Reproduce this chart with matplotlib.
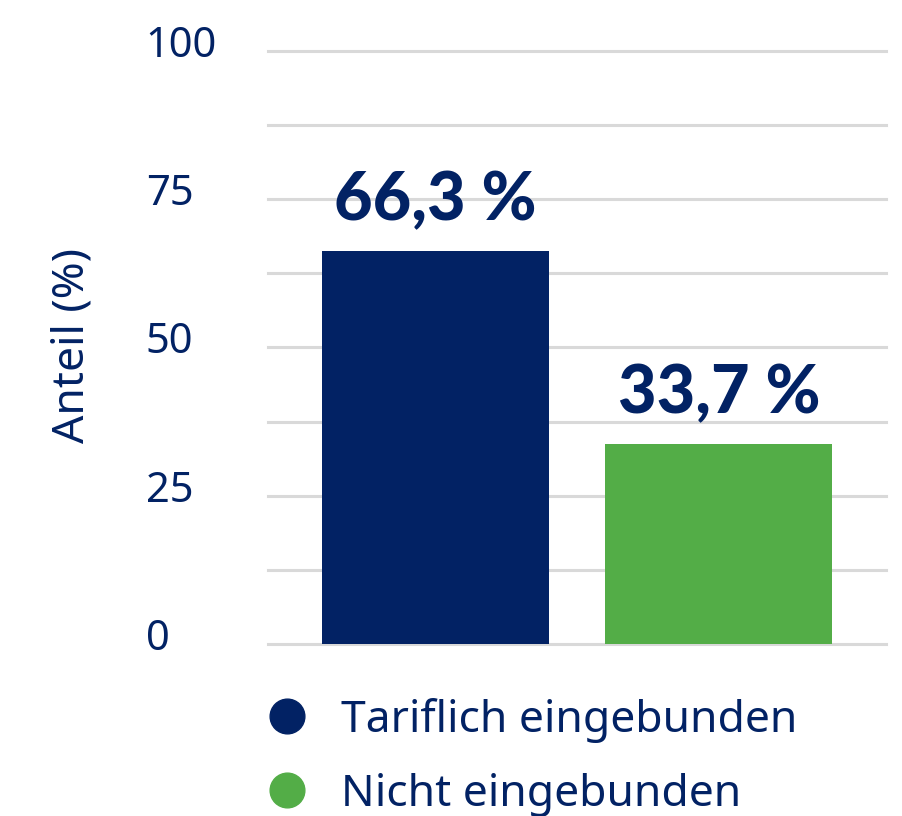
import matplotlib
matplotlib.use("Agg")
import matplotlib.pyplot as plt
from matplotlib.lines import Line2D
from matplotlib.transforms import ScaledTranslation

# data
categories = ["Tariflich eingebunden", "Nicht eingebunden"]
shares = [66.3, 33.7]
share_labels = ["66,3 %", "33,7 %"]
yticks = [0, 25, 50, 75, 100]

navy = "#022264"
green = "#53ad47"
grid_grey = "#d9d9d9"

plt.rcParams["font.family"] = ["Noto Sans", "DejaVu Sans"]

fig = plt.figure(figsize=(9.03, 8.16), dpi=100)
ax = fig.add_axes([0.2968, 0.2108, 0.6844, 0.7267])

x = range(len(categories))
ax.bar(x, shares, width=0.8, color=[navy, green], zorder=2)

for xi, val, lab in zip(x, shares, share_labels):
    ax.annotate(lab, (xi, val), xytext=(0, 22), textcoords="offset points",
                ha="center", va="baseline", fontsize=48, fontweight="black",
                family=["Lato", "DejaVu Sans"], color=navy)

ax.set_xlim(-0.59, 1.59)
ax.set_ylim(0, 100)
ax.set_yticks(yticks)
ax.set_yticks([12.5, 37.5, 62.5, 87.5], minor=True)
ax.set_xticks([])
ax.grid(axis="y", which="both", color=grid_grey, linewidth=2.2, zorder=0)
for t in ax.yaxis.get_major_ticks() + ax.yaxis.get_minor_ticks():
    t.gridline.set_clip_on(False)
ax.tick_params(axis="y", which="both", length=0, pad=88, labelsize=30,
               labelcolor=navy)
# labels sit a little above their gridlines
shift = ScaledTranslation(0, 0.10, fig.dpi_scale_trans)
for lbl in ax.get_yticklabels():
    lbl.set_horizontalalignment("left")
    lbl.set_transform(lbl.get_transform() + shift)
for s in ax.spines.values():
    s.set_visible(False)

ax.set_ylabel("Anteil (%)", fontsize=32, color=navy, labelpad=0)
ax.yaxis.set_label_coords(-0.28, 0.504)

handles = [Line2D([], [], linestyle="none", marker="o", markersize=25,
                  markerfacecolor=c, markeredgecolor=c) for c in (navy, green)]
fig.legend(handles, categories, loc="upper left",
           bbox_to_anchor=(0.288, 0.145), frameon=False, fontsize=32,
           labelcolor=navy, handletextpad=0.62, labelspacing=0.68,
           borderaxespad=0, borderpad=0, handlelength=1.2)

fig.savefig("out.png", dpi=100)
